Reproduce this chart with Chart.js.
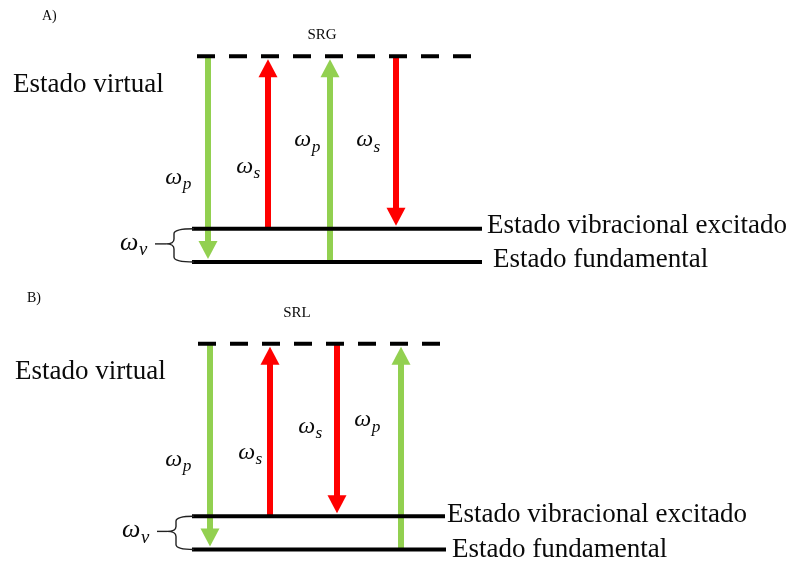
<!DOCTYPE html>
<html>
<head>
<meta charset="utf-8">
<title>SRG / SRL</title>
<script src="https://cdn.jsdelivr.net/npm/chart.js@4.4.1/dist/chart.umd.min.js"></script>
<style>
  html, body { margin: 0; padding: 0; background: #ffffff; }
  #wrap { width: 793px; height: 568px; position: relative; }
</style>
</head>
<body>
<div id="wrap"><canvas id="diagram"></canvas></div>
<script>
// Energy levels, in units of the vibrational quantum ω_v
const levelNames  = ['Estado fundamental', 'Estado vibracional excitado', 'Estado virtual'];
const levelEnergy = [0, 1, 6.2];

// Stimulated Raman gain: start level, end level and beam of each transition
const srgFrom = [2, 1, 0, 2];
const srgTo   = [0, 2, 2, 1];
const srgBeam = ['p', 's', 'p', 's'];

// Stimulated Raman loss
const srlFrom = [2, 1, 2, 0];
const srlTo   = [0, 2, 1, 2];
const srlBeam = ['p', 's', 's', 'p'];

const panelTitles = ['SRG', 'SRL'];
const panelTags   = ['A)', 'B)'];

// ---- drawing layout (pixels / styling only) ----
const W = 793, H = 568;
const PX_PER_UNIT = 33.2;
const TIP_GAP = 3, HEAD_LEN = 18, HEAD_W = 19;
const beamColor = { p: '#92D050', s: '#FF0000' };
const SERIF = '"Liberation Serif", "Times New Roman", serif';

const layout = [
  { axis: 'yA', groundPx: 262,
    levelX: [[192, 482], [192, 482], [197, 471]],
    arrowX: [208, 268, 330, 396],
    nameX: [493, 487, 13], nameDy: [5, 4, 36],
    omegaPos: [[-30, 2.52], [-20, 2.85], [-23, 3.64], [-28, 3.64]],
    tag: [42, 20], title: [322, 39],
    brace: { textX: 120, dashX: [155, 166], tipX: 166, armX: 174, endX: 194 } },
  { axis: 'yB', groundPx: 549.5,
    levelX: [[192, 446], [192, 445], [198, 441]],
    arrowX: [210, 270, 337, 401],
    nameX: [452, 447, 15], nameDy: [7.5, 5.7, 35],
    omegaPos: [[-32, 2.67], [-20, 2.88], [-27, 3.67], [-34, 3.87]],
    tag: [27, 302], title: [297, 317],
    brace: { textX: 122, dashX: [157, 167], tipX: 167, armX: 176, endX: 194 } }
];

const datasets = [];

function buildPanel(p, from, to, beam) {
  const L = layout[p];
  levelEnergy.forEach((E, i) => {
    datasets.push({
      data: [{ x: L.levelX[i][0], y: E }, { x: L.levelX[i][1], y: E }],
      yAxisID: L.axis,
      borderColor: '#000000',
      borderWidth: 4,
      borderDash: i === 2 ? [18, 14] : [],
      borderCapStyle: 'butt',
      order: 0
    });
  });
  from.forEach((f, k) => {
    const E0 = levelEnergy[f];
    const E1 = levelEnergy[to[k]];
    const dir = Math.sign(E1 - E0);
    const tipE = E1 - dir * TIP_GAP / PX_PER_UNIT;
    const baseE = tipE - dir * HEAD_LEN / PX_PER_UNIT;
    const shaftEnd = baseE + dir * 1 / PX_PER_UNIT;
    datasets.push({
      data: [{ x: L.arrowX[k], y: E0 }, { x: L.arrowX[k], y: shaftEnd }],
      yAxisID: L.axis,
      borderColor: beamColor[beam[k]],
      borderWidth: 6,
      borderCapStyle: 'butt',
      order: 1,
      head: { tipE: tipE, baseE: baseE, color: beamColor[beam[k]] }
    });
  });
}
buildPanel(0, srgFrom, srgTo, srgBeam);
buildPanel(1, srlFrom, srlTo, srlBeam);

function axisRange(L) {
  return {
    display: false,
    type: 'linear',
    min: -(H - L.groundPx) / PX_PER_UNIT,
    max: L.groundPx / PX_PER_UNIT
  };
}

function drawOmega(ctx, sub, cx, cy, size) {
  const subSize = size * 0.72;
  ctx.font = 'italic ' + size + 'px ' + SERIF;
  const w1 = ctx.measureText('ω').width;
  ctx.font = 'italic ' + subSize + 'px ' + SERIF;
  const w2 = ctx.measureText(sub).width;
  const x0 = cx - (w1 + w2) / 2;
  const base = cy + size * 0.22;
  ctx.textAlign = 'left';
  ctx.textBaseline = 'alphabetic';
  ctx.font = 'italic ' + size + 'px ' + SERIF;
  ctx.fillText('ω', x0, base);
  ctx.font = 'italic ' + subSize + 'px ' + SERIF;
  ctx.fillText(sub, x0 + w1 + 0.5, base + size * 0.22);
}

const annotations = {
  id: 'annotations',
  afterDatasetsDraw(chart) {
    const ctx = chart.ctx;
    ctx.save();
    chart.data.datasets.forEach((ds, i) => {
      if (!ds.head) return;
      const meta = chart.getDatasetMeta(i);
      const x = meta.data[0].x;
      const ys = chart.scales[ds.yAxisID];
      const tipY = ys.getPixelForValue(ds.head.tipE);
      const baseY = ys.getPixelForValue(ds.head.baseE);
      ctx.fillStyle = ds.head.color;
      ctx.beginPath();
      ctx.moveTo(x - HEAD_W / 2, baseY);
      ctx.lineTo(x + HEAD_W / 2, baseY);
      ctx.lineTo(x, tipY);
      ctx.closePath();
      ctx.fill();
    });
    ctx.restore();
  },
  afterDraw(chart) {
    const ctx = chart.ctx;
    const xs = chart.scales.x;
    ctx.save();
    ctx.fillStyle = '#0a0a0a';
    ctx.strokeStyle = '#222222';
    layout.forEach((L, p) => {
      const ys = chart.scales[L.axis];
      // panel tag and title
      ctx.textBaseline = 'alphabetic';
      ctx.font = '14px ' + SERIF;
      ctx.textAlign = 'left';
      ctx.fillText(panelTags[p], xs.getPixelForValue(L.tag[0]), L.tag[1]);
      ctx.font = '15px ' + SERIF;
      ctx.textAlign = 'center';
      ctx.fillText(panelTitles[p], xs.getPixelForValue(L.title[0]), L.title[1]);
      // level names
      ctx.font = '27px ' + SERIF;
      ctx.textAlign = 'left';
      levelNames.forEach((name, i) => {
        const y = ys.getPixelForValue(levelEnergy[i]) + L.nameDy[i];
        ctx.fillText(name, xs.getPixelForValue(L.nameX[i]), y);
      });
      // beam labels beside the arrows
      const beams = p === 0 ? srgBeam : srlBeam;
      beams.forEach((b, k) => {
        const cx = xs.getPixelForValue(L.arrowX[k] + L.omegaPos[k][0]);
        const cy = ys.getPixelForValue(L.omegaPos[k][1]);
        drawOmega(ctx, b, cx, cy, 24);
      });
      // vibrational spacing brace
      const B = L.brace;
      const top = ys.getPixelForValue(levelEnergy[1]);
      const bot = ys.getPixelForValue(levelEnergy[0]);
      const mid = (top + bot) / 2 - 1.5;
      ctx.font = 'italic 26px ' + SERIF;
      const wO = ctx.measureText('ω').width;
      ctx.font = 'italic 19px ' + SERIF;
      const wV = ctx.measureText('v').width;
      drawOmega(ctx, 'v', xs.getPixelForValue(B.textX) + (wO + wV) / 2, mid, 26);
      const r = 5;
      ctx.lineWidth = 1.4;
      ctx.beginPath();
      ctx.moveTo(xs.getPixelForValue(B.dashX[0]), mid);
      ctx.lineTo(xs.getPixelForValue(B.dashX[1]), mid);
      ctx.stroke();
      const tipX = xs.getPixelForValue(B.tipX);
      const armX = xs.getPixelForValue(B.armX);
      const endX = xs.getPixelForValue(B.endX);
      ctx.beginPath();
      ctx.moveTo(endX, top);
      ctx.quadraticCurveTo(armX, top, armX, top + r);
      ctx.lineTo(armX, mid - r);
      ctx.quadraticCurveTo(armX, mid, tipX, mid);
      ctx.quadraticCurveTo(armX, mid, armX, mid + r);
      ctx.lineTo(armX, bot - r);
      ctx.quadraticCurveTo(armX, bot, endX, bot);
      ctx.stroke();
    });
    ctx.restore();
  }
};

new Chart(document.getElementById('diagram'), {
  type: 'line',
  data: { datasets: datasets },
  options: {
    responsive: true,
    maintainAspectRatio: false,
    animation: false,
    events: [],
    layout: { padding: 0, autoPadding: false },
    elements: { point: { radius: 0 }, line: { tension: 0, fill: false } },
    plugins: { legend: { display: false }, tooltip: { enabled: false }, title: { display: false } },
    scales: {
      x: { display: false, type: 'linear', min: 0, max: W },
      yA: axisRange(layout[0]),
      yB: axisRange(layout[1])
    }
  },
  plugins: [annotations]
});
</script>
</body>
</html>
